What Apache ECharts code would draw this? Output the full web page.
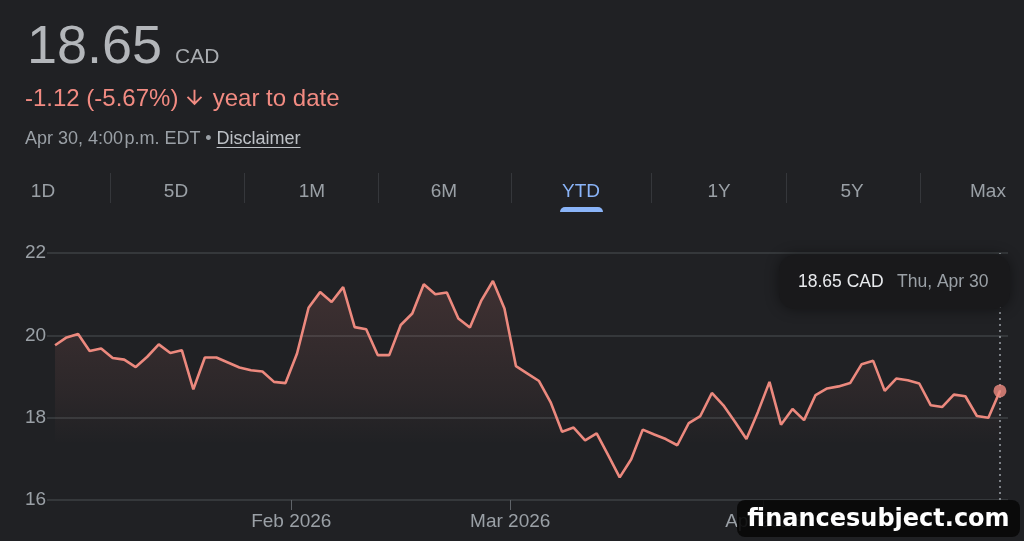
<!DOCTYPE html>
<html>
<head>
<meta charset="utf-8">
<title>18.65 CAD - YTD</title>
<script src="https://cdn.jsdelivr.net/npm/echarts@6/dist/echarts.min.js"></script>
<style>
  html, body { margin: 0; padding: 0; background: #202124; }
  #wrap { position: relative; width: 1024px; height: 541px; overflow: hidden; font-family: Arial, "Liberation Sans", sans-serif; }
  #chart { position: absolute; left: 0; top: 0; width: 1024px; height: 541px; }
  .t { position: absolute; line-height: 1; white-space: nowrap; }
  .price { left: 27px; top: 17px; font-size: 54px; color: #b3b6ba; }
  .cur { left: 175px; top: 45px; font-size: 21px; color: #a9acb0; }
  .chg { left: 25px; top: 86px; font-size: 24px; color: #f28b82; }
  .chg svg { vertical-align: -3px; margin: 0 0 0 -2px; }
  .when { left: 25px; top: 129px; font-size: 18px; color: #9aa0a6; }
  .when u { color: #bdc1c6; text-underline-offset: 3px; }
  .tab { top: 181px; font-size: 19px; color: #9aa0a6; width: 80px; margin-left: -40px; text-align: center; }
  .tab.on { color: #8ab4f8; }
  .sep { position: absolute; top: 173px; width: 1px; height: 30px; background: #35373b; }
  .bar { position: absolute; left: 560px; top: 207px; width: 43px; height: 5px; background: #8ab4f8; border-radius: 5px 5px 0 0; }
  .mark { position: absolute; left: 737px; top: 500px; width: 283px; height: 37px; background: rgba(8, 8, 8, 0.9); border-radius: 8px;
          color: #fff; font: bold 24px "DejaVu Sans", sans-serif; line-height: 37px; text-align: center; }
</style>
</head>
<body>
<div id="wrap">
  <div id="chart"></div>
  <div class="t price">18.65</div>
  <div class="t cur">CAD</div>
  <div class="t chg">-1.12 (-5.67%) <svg width="23" height="23" viewBox="0 0 24 24"><path fill="#f28b82" d="M20 12l-1.41-1.41L13 16.17V4h-2v12.17l-5.58-5.59L4 12l8 8 8-8z"/></svg> year to date</div>
  <div class="t when">Apr 30, 4:00&#8202;p.m. EDT • <u>Disclaimer</u></div>
  <div id="tabs"></div>
  <div class="bar"></div>
  <div class="mark">financesubject.com</div>
</div>
<script>
// daily closes, Jan 2 - Apr 30 2026 (trading days)
var dates = [
  'Jan 2', 'Jan 5', 'Jan 6', 'Jan 7', 'Jan 8', 'Jan 9', 'Jan 12', 'Jan 13', 'Jan 14', 'Jan 15', 'Jan 16',
  'Jan 19', 'Jan 20', 'Jan 21', 'Jan 22', 'Jan 23', 'Jan 26', 'Jan 27', 'Jan 28', 'Jan 29', 'Jan 30',
  'Feb 2', 'Feb 3', 'Feb 4', 'Feb 5', 'Feb 6', 'Feb 9', 'Feb 10', 'Feb 11', 'Feb 12', 'Feb 13',
  'Feb 17', 'Feb 18', 'Feb 19', 'Feb 20', 'Feb 23', 'Feb 24', 'Feb 25', 'Feb 26', 'Feb 27',
  'Mar 2', 'Mar 3', 'Mar 4', 'Mar 5', 'Mar 6', 'Mar 9', 'Mar 10', 'Mar 11', 'Mar 12', 'Mar 13',
  'Mar 16', 'Mar 17', 'Mar 18', 'Mar 19', 'Mar 20', 'Mar 23', 'Mar 24', 'Mar 25', 'Mar 26', 'Mar 27', 'Mar 30', 'Mar 31',
  'Apr 1', 'Apr 2', 'Apr 6', 'Apr 7', 'Apr 8', 'Apr 9', 'Apr 10', 'Apr 13', 'Apr 14', 'Apr 15', 'Apr 16', 'Apr 17',
  'Apr 20', 'Apr 21', 'Apr 22', 'Apr 23', 'Apr 24', 'Apr 27', 'Apr 28', 'Apr 29', 'Apr 30'
];
var prices = [
  19.76, 19.95, 20.03, 19.62, 19.68, 19.45, 19.41, 19.23, 19.48, 19.78, 19.57,
  19.64, 18.69, 19.46, 19.46, 19.34, 19.22, 19.15, 19.12, 18.87, 18.84,
  19.56, 20.67, 21.05, 20.81, 21.17, 20.20, 20.15, 19.52, 19.52, 20.25,
  20.53, 21.24, 21.00, 21.04, 20.41, 20.19, 20.85, 21.32, 20.65,
  19.25, 19.07, 18.89, 18.38, 17.66, 17.76, 17.45, 17.62, 17.09, 16.55,
  16.99, 17.71, 17.59, 17.48, 17.33, 17.87, 18.04, 18.60, 18.30, 17.90, 17.48, 18.14,
  18.87, 17.83, 18.21, 17.94, 18.55, 18.71, 18.76, 18.84, 19.30, 19.38, 18.65, 18.95,
  18.91, 18.83, 18.30, 18.26, 18.56, 18.52, 18.04, 18.00, 18.65
];
var year = 2026;
var currency = 'CAD';
var yTicks = [16, 18, 20, 22];
var ranges = ['1D', '5D', '1M', '6M', 'YTD', '1Y', '5Y', 'Max'];
var activeRange = 'YTD';

// range tabs
var tabX = [43, 176, 312, 444, 581, 719, 852, 988];
var sepX = [110, 244, 378, 511, 651, 786, 920];
var tabs = document.getElementById('tabs');
ranges.forEach(function (r, i) {
  var d = document.createElement('div');
  d.className = 't tab' + (r === activeRange ? ' on' : '');
  d.style.left = tabX[i] + 'px';
  d.textContent = r;
  tabs.appendChild(d);
});
sepX.forEach(function (x) {
  var s = document.createElement('div');
  s.className = 'sep';
  s.style.left = x + 'px';
  tabs.appendChild(s);
});

// month boundaries sit half way between last and first trading day
var monthTicks = [], monthLabels = {};
for (var i = 1; i < dates.length; i++) {
  var m = dates[i].split(' ')[0];
  if (m !== dates[i - 1].split(' ')[0]) {
    monthTicks.push(i - 0.5);
    monthLabels[i - 0.5] = m + ' ' + year;
  }
}

var last = prices.length - 1;
var lastDay = new Date(dates[last] + ' ' + year).toLocaleDateString('en-US', { weekday: 'short' });
var tipText = prices[last].toFixed(2) + ' ' + currency;
var tipDate = lastDay + ', ' + dates[last];

var chart = echarts.init(document.getElementById('chart'));
var option = {
  backgroundColor: '#202124',
  animation: false,
  textStyle: { fontFamily: 'Arial, "Liberation Sans", sans-serif' },
  grid: { left: 47, right: 16, top: 253, bottom: 41 },
  xAxis: {
    type: 'value',
    min: -0.7,
    max: last + 0.7,
    axisLine: { show: false },
    splitLine: { show: false },
    axisTick: { show: true, customValues: monthTicks, length: 10, lineStyle: { color: '#5f6368', width: 1 } },
    axisLabel: {
      customValues: monthTicks,
      color: '#9aa0a6',
      fontSize: 19,
      margin: 12,
      formatter: function (v) { return monthLabels[v] || ''; }
    }
  },
  yAxis: {
    type: 'value',
    min: yTicks[0],
    max: yTicks[yTicks.length - 1],
    interval: 2,
    axisLine: { show: false },
    axisTick: { show: false },
    axisLabel: { color: '#9aa0a6', fontSize: 19, align: 'left', margin: 22 },
    splitLine: { lineStyle: { color: '#3c4043', width: 1.5 } }
  },
  series: [
    {
      type: 'line',
      data: prices.map(function (v, i) { return [i, v]; }),
      showSymbol: false,
      lineStyle: { color: '#ec897e', width: 2.6 },
      areaStyle: {
        origin: 17.4,
        color: new echarts.graphic.LinearGradient(0, 280, 0, 445, [
          { offset: 0, color: 'rgba(242,139,130,0.21)' },
          { offset: 0.7, color: 'rgba(242,139,130,0.08)' },
          { offset: 1, color: 'rgba(242,139,130,0)' }
        ], true)
      },
      markLine: {
        silent: true,
        symbol: 'none',
        label: { show: false },
        lineStyle: { color: '#9aa0a6', type: [2, 4], width: 1.5 },
        data: [{ xAxis: last }]
      }
    },
    {
      type: 'scatter',
      data: [[last, prices[last]]],
      symbolSize: 13,
      itemStyle: { color: '#f08c81' },
      z: 5
    }
  ],
  graphic: [
    {
      type: 'rect',
      z: 100,
      shape: { x: 779, y: 255, width: 231, height: 54, r: 16 },
      style: { fill: '#19191b', shadowBlur: 14, shadowColor: 'rgba(0,0,0,0.45)' }
    },
    {
      type: 'text',
      z: 101,
      x: 798, y: 282,
      style: { text: tipText, fill: '#e8eaed', font: '17.5px Arial, "Liberation Sans", sans-serif', verticalAlign: 'middle' }
    },
    {
      type: 'text',
      z: 101,
      x: 897, y: 282,
      style: { text: tipDate, fill: '#9aa0a6', font: '17.5px Arial, "Liberation Sans", sans-serif', verticalAlign: 'middle' }
    }
  ]
};
chart.setOption(option);
</script>
</body>
</html>
